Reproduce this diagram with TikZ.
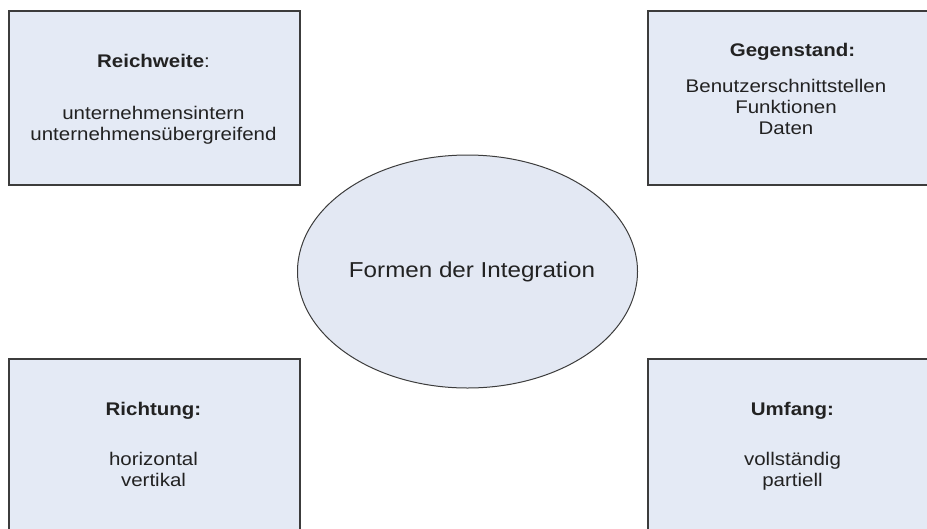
\documentclass[tikz,border=0pt]{standalone}
\usepackage{fontspec}
\setmainfont{Liberation Sans}[FakeStretch=1.12]
\usetikzlibrary{shapes.geometric}

\definecolor{boxfill}{HTML}{E4EAF5}
\definecolor{ellfill}{HTML}{E3E8F3}
\definecolor{edge}{HTML}{3C3C3C}
\definecolor{ink}{HTML}{222222}

\tikzset{
  formbox/.style={draw=edge,line width=1.5pt,fill=boxfill,rectangle,
    minimum width=291pt,minimum height=174pt,inner sep=0pt,anchor=north west},
  formhead/.style={anchor=base,text=ink,font=\fontsize{18.3}{21}\selectfont\bfseries},
  formitem/.style={anchor=base,text=ink,align=center,font=\fontsize{18.3}{21}\selectfont},
}

\begin{document}
\begin{tikzpicture}[x=1pt,y=-1pt]
\useasboundingbox (0,0) rectangle (927,528);
\clip (0,0) rectangle (927,528);
\node[formbox] (reich) at (8,10) {};
\node[formbox] (gegen) at (647,10) {};
\node[formbox] (richt) at (8,358) {};
\node[formbox] (umf) at (647,358) {};
\node[ellipse,draw=edge,line width=1pt,fill=ellfill,minimum width=340pt,minimum height=233pt,inner sep=0pt] (formen) at (467.5,271.5) {};
\node[anchor=base,text=ink,font=\fontsize{21.6}{25}\selectfont] (formentext) at (472,277) {Formen der Integration};
\node[formhead] (reichhead) at (153.5,67) {Reichweite\mdseries:};
\node[formitem] (reichitems) at (153.5,140) {unternehmensintern\\unternehmensübergreifend};
\node[formhead] (gegenhead) at (792.5,56) {Gegenstand:};
\node[formitem] (gegenitems) at (786,134) {Benutzerschnittstellen\\Funktionen\\Daten};
\node[formhead] (richthead) at (153.5,415) {Richtung:};
\node[formitem] (richtitems) at (153.5,486) {horizontal\\vertikal};
\node[formhead] (umfhead) at (792.5,415) {Umfang:};
\node[formitem] (umfitems) at (792.5,486) {vollständig\\partiell};
\end{tikzpicture}
\end{document}
